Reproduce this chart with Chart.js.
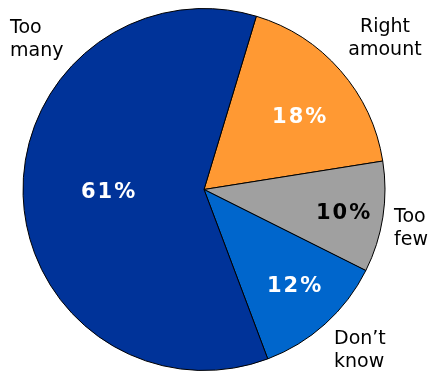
<!DOCTYPE html>
<html>
<head>
<meta charset="utf-8">
<script src="https://cdn.jsdelivr.net/npm/chart.js@4"></script>
<style>
  html, body { margin: 0; padding: 0; background: #fff; }
  #wrap { width: 432px; height: 372px; }
</style>
</head>
<body>
<div id="wrap"><canvas id="myChart" width="432" height="372"></canvas></div>
<script>
// Svar og procenter
let categories = ['Right amount', 'Too few', "Don\u2019t know", 'Too many'];
let percents = [18, 10, 12, 61];
let colors = ['#FF9933', '#A0A0A0', '#0066CC', '#003399'];
let valueColors = ['#ffffff', '#000000', '#ffffff', '#ffffff'];

// Hvor langt ude procent-teksten sidder (andel af radius) og lidt vinkel-justering
let valueRadius = [0.66, 0.78, 0.73, 0.53];
let valueTurn = [4, 1, -1, 0];

// Navne udenfor cirklen
let outsideLabels = [
    { lines: ['Right', 'amount'], x: 385, y: 32, align: 'center' },
    { lines: ['Too', 'few'], x: 394, y: 222, align: 'left' },
    { lines: ['Don\u2019t', 'know'], x: 334, y: 344, align: 'left' },
    { lines: ['Too', 'many'], x: 10, y: 33, align: 'left' }
];

let pieLabels = {
    id: 'pieLabels',
    afterDatasetsDraw(chart) {
        let ctx = chart.ctx;
        let arcs = chart.getDatasetMeta(0).data;
        ctx.save();
        ctx.textBaseline = 'middle';
        ctx.textAlign = 'center';
        ctx.font = 'bold 21px "DejaVu Sans"';
        ctx.letterSpacing = '2px';
        arcs.forEach((arc, i) => {
            let mid = (arc.startAngle + arc.endAngle) / 2 + valueTurn[i] * Math.PI / 180;
            let r = arc.outerRadius * valueRadius[i];
            let x = arc.x + Math.cos(mid) * r + 1;
            let y = arc.y + Math.sin(mid) * r;
            ctx.fillStyle = valueColors[i];
            ctx.fillText(percents[i] + '%', x, y);
        });
        ctx.letterSpacing = '0px';
        ctx.font = '19px "DejaVu Sans"';
        ctx.fillStyle = '#000000';
        ctx.textBaseline = 'alphabetic';
        outsideLabels.forEach(l => {
            ctx.textAlign = l.align;
            l.lines.forEach((t, k) => ctx.fillText(t, l.x, l.y + k * 23));
        });
        ctx.restore();
    }
};

let ctx = document.getElementById('myChart').getContext('2d');
let myChart = new Chart(ctx, {
    type: 'pie',
    data: {
        labels: categories,
        datasets: [{
            data: percents,
            backgroundColor: colors,
            borderColor: '#000000',
            borderWidth: 1,
            borderJoinStyle: 'miter'
        }]
    },
    options: {
        responsive: false,
        animation: false,
        rotation: 16.8,
        layout: { padding: { left: 22, right: 46, top: 8, bottom: 1 } },
        plugins: {
            legend: { display: false },
            tooltip: { enabled: false }
        }
    },
    plugins: [pieLabels]
});
</script>
</body>
</html>
